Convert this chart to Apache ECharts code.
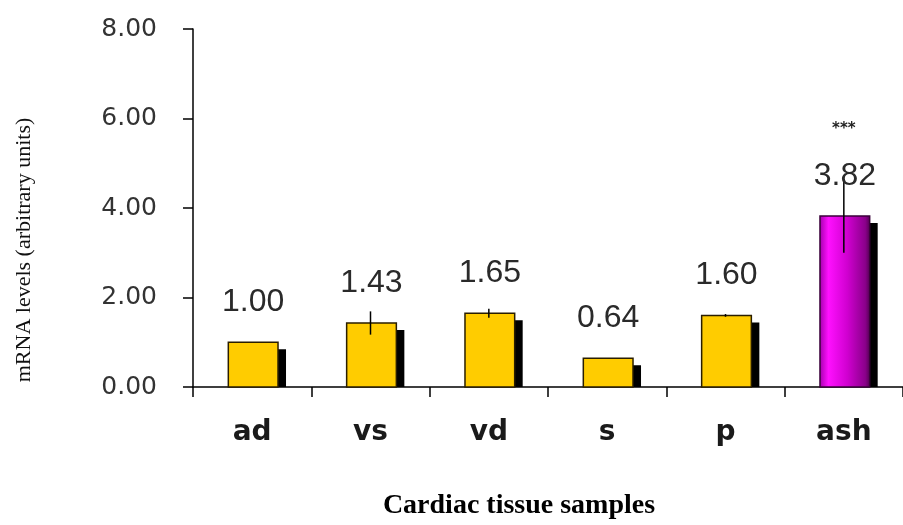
<!DOCTYPE html>
<html>
<head>
<meta charset="utf-8">
<script src="https://cdn.jsdelivr.net/npm/echarts@6/dist/echarts.min.js"></script>
<style>html,body{margin:0;padding:0;background:#fff;}#c{width:903px;height:525px;}</style>
</head>
<body>
<div id="c"></div>
<script>
const categories = ['ad', 'vs', 'vd', 's', 'p', 'ash'];
const values = [1.00, 1.43, 1.65, 0.64, 1.60, 3.82];
const errors = [0, 0.26, 0.10, 0, 0.03, 0.82];
const significance = ['', '', '', '', '', '***'];
const highlighted = [false, false, false, false, false, true];
const yTickLabels = ['0.00', '2.00', '4.00', '6.00', '8.00'];

const chart = echarts.init(document.getElementById('c'), null, {renderer: 'canvas'});

const data = values.map((v, i) => [i, v, errors[i]]);

function renderItem(params, api) {
  const i = api.value(0);
  const v = api.value(1);
  const e = api.value(2);
  const top = api.coord([i, v]);
  const base = api.coord([i, 0]);
  const bw = api.size([1, 0])[0] * 0.42;
  const x0 = top[0] - bw / 2 + 1;
  const children = [];
  children.push({
    type: 'rect',
    shape: {x: x0 + 8, y: top[1] + 7, width: bw, height: base[1] - top[1] - 7},
    style: {fill: '#000'}
  });
  const fill = highlighted[i]
    ? new echarts.graphic.LinearGradient(0, 0, 1, 0, [
        {offset: 0, color: '#a000a8'},
        {offset: 0.18, color: '#ff10ff'},
        {offset: 0.55, color: '#d000d0'},
        {offset: 0.9, color: '#8a008a'},
        {offset: 1, color: '#500050'}
      ])
    : '#ffcc00';
  children.push({
    type: 'rect',
    shape: {x: x0, y: top[1], width: bw, height: base[1] - top[1]},
    style: {fill: fill, stroke: highlighted[i] ? '#3a003a' : '#2a1e00', lineWidth: 1.5}
  });
  if (e > 0) {
    const hi = api.coord([i, v + e]);
    const lo = api.coord([i, v - e]);
    children.push({
      type: 'line',
      shape: {x1: top[0], y1: hi[1], x2: top[0], y2: lo[1]},
      style: {stroke: '#000', lineWidth: 1.5}
    });
  }
  children.push({
    type: 'text',
    style: {
      text: v.toFixed(2),
      x: top[0] + 1, y: top[1] - 24,
      align: 'center', verticalAlign: 'bottom',
      fontFamily: 'Liberation Sans', fontSize: 32, fill: '#2a2a2a'
    },
    z2: 10
  });
  if (significance[i]) {
    children.push({
      type: 'text',
      style: {
        text: significance[i],
        x: top[0], y: top[1] - 87,
        align: 'center', verticalAlign: 'middle',
        fontFamily: 'DejaVu Sans', fontWeight: 'bold', fontSize: 15, fill: '#222'
      }
    });
  }
  return {type: 'group', children: children};
}

chart.setOption({
  animation: false,
  backgroundColor: '#fff',
  grid: {left: 193, top: 29, width: 716, height: 358, containLabel: false},
  xAxis: {
    type: 'category',
    data: categories,
    boundaryGap: true,
    axisLine: {lineStyle: {color: '#000', width: 1.5}},
    axisTick: {show: true, length: 10, lineStyle: {color: '#000', width: 1.5}},
    axisLabel: {
      margin: 32,
      fontFamily: 'DejaVu Sans', fontWeight: 'bold', fontSize: 28, color: '#1a1a1a'
    },
    name: 'Cardiac tissue samples',
    nameLocation: 'middle',
    nameGap: 105,
    nameTextStyle: {
      fontFamily: 'Liberation Serif', fontWeight: 'bold', fontSize: 28, color: '#000',
      padding: [0, 58, 0, 0]
    }
  },
  yAxis: {
    type: 'value',
    min: 0, max: 8, interval: 2,
    splitLine: {show: false},
    axisLine: {show: true, lineStyle: {color: '#000', width: 1.5}},
    axisTick: {show: true, length: 10, lineStyle: {color: '#000', width: 1.5}},
    axisLabel: {
      margin: 36,
      fontFamily: 'DejaVu Sans', fontSize: 25, color: '#333',
      formatter: (val) => yTickLabels[Math.round(val / 2)]
    },
    name: 'mRNA levels (arbitrary units)',
    nameLocation: 'middle',
    nameGap: 158,
    nameRotate: 90,
    nameTextStyle: {
      fontFamily: 'Liberation Serif', fontSize: 22, color: '#111',
      padding: [0, 84, 0, 0]
    }
  },
  series: [{
    type: 'custom',
    renderItem: renderItem,
    encode: {x: 0, y: 1},
    data: data,
    clip: false
  }]
});
</script>
</body>
</html>
